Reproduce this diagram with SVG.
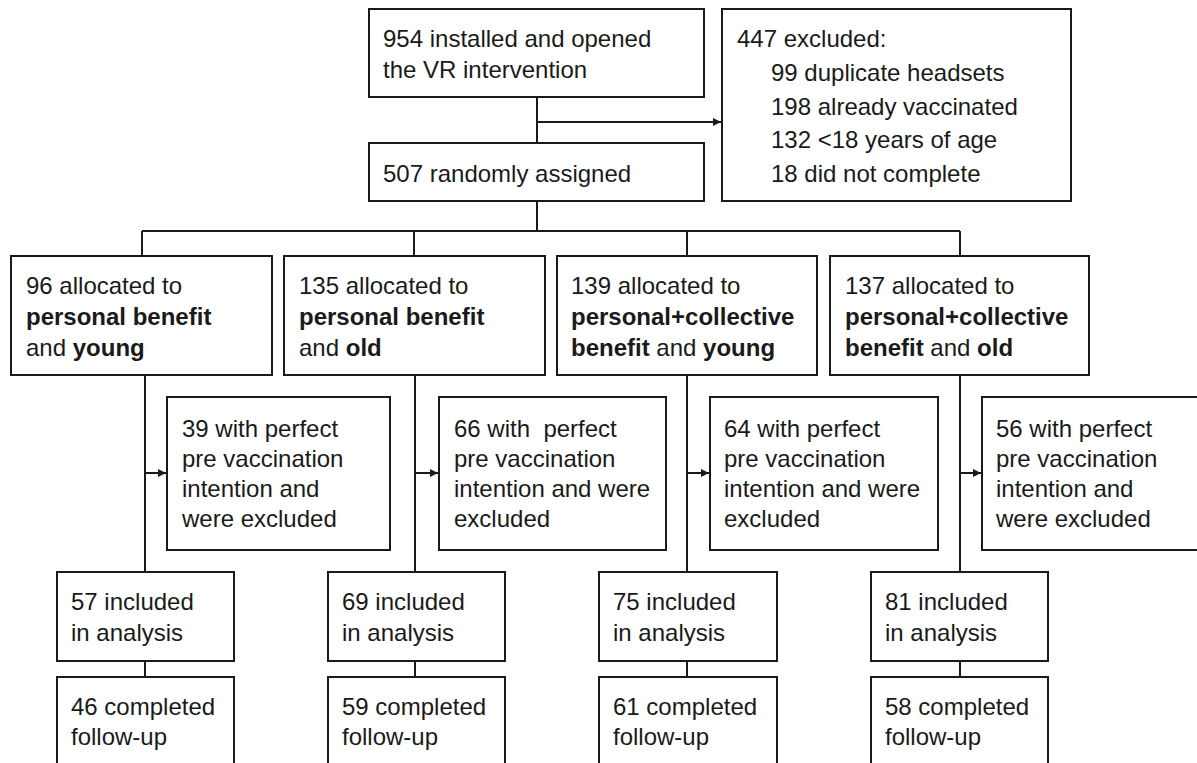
<svg xmlns="http://www.w3.org/2000/svg" width="1197" height="763" viewBox="0 0 1197 763">
<defs>
<marker id="arr" viewBox="0 0 10 10" refX="10" refY="5" markerWidth="10" markerHeight="8" markerUnits="userSpaceOnUse" orient="auto">
<path d="M0,0 L10,5 L0,10 z" fill="#1a1a1a"/>
</marker>
</defs>
<style>
rect.box{fill:#fff;stroke:#1a1a1a;stroke-width:2}
.t{font-family:"Liberation Sans",Arial,Helvetica,sans-serif;font-size:24px;fill:#1a1a1a}
.b{font-weight:bold}
.c{fill:none;stroke:#1a1a1a;stroke-width:2}
</style>
<rect width="1197" height="763" fill="#fff"/>
<g id="connectors">
<path class="c" d="M537,97 V143"/>
<path class="c" d="M537,122 H721" marker-end="url(#arr)"/>
<path class="c" d="M537,201 V231"/>
<path class="c" d="M142,231 H960"/>
<path class="c" d="M142,231 V256 M414,231 V256 M687,231 V256 M960,231 V256"/>
<path class="c" d="M145,375 V572 M415,375 V572 M687,375 V572 M960,375 V572"/>
<path class="c" d="M145,473 H166" marker-end="url(#arr)"/>
<path class="c" d="M415,473 H438" marker-end="url(#arr)"/>
<path class="c" d="M687,473 H709" marker-end="url(#arr)"/>
<path class="c" d="M960,473 H981" marker-end="url(#arr)"/>
<path class="c" d="M145,661 V677 M415,661 V677 M687,661 V677 M960,661 V677"/>
</g>
<g id="installed">
<rect class="box" x="369" y="9" width="335" height="88"/>
<text class="t" x="383" y="47">954 installed and opened</text>
<text class="t" x="383" y="78">the VR intervention</text>
</g>
<g id="excluded">
<rect class="box" x="722" y="9" width="349" height="192"/>
<text class="t" x="737" y="47">447 excluded:</text>
<text class="t" x="771" y="81">99 duplicate headsets</text>
<text class="t" x="771" y="115">198 already vaccinated</text>
<text class="t" x="771" y="148">132 &lt;18 years of age</text>
<text class="t" x="771" y="182">18 did not complete</text>
</g>
<g id="randomized">
<rect class="box" x="369" y="143" width="335" height="58"/>
<text class="t" x="383" y="182">507 randomly assigned</text>
</g>
<g id="arm1">
<rect class="box" x="11" y="256" width="261" height="119"/>
<text class="t" x="26" y="294">96 allocated to</text>
<text class="t b" x="26" y="325">personal benefit</text>
<text class="t" x="26" y="356">and <tspan class="b">young</tspan></text>
</g>
<g id="arm2">
<rect class="box" x="284" y="256" width="261" height="119"/>
<text class="t" x="299" y="294">135 allocated to</text>
<text class="t b" x="299" y="325">personal benefit</text>
<text class="t" x="299" y="356">and <tspan class="b">old</tspan></text>
</g>
<g id="arm3">
<rect class="box" x="557" y="256" width="260" height="119"/>
<text class="t" x="571" y="294">139 allocated to</text>
<text class="t b" x="571" y="325">personal+collective</text>
<text class="t" x="571" y="356"><tspan class="b">benefit</tspan> and <tspan class="b">young</tspan></text>
</g>
<g id="arm4">
<rect class="box" x="830" y="256" width="259" height="119"/>
<text class="t" x="845" y="294">137 allocated to</text>
<text class="t b" x="845" y="325">personal+collective</text>
<text class="t" x="845" y="356"><tspan class="b">benefit</tspan> and <tspan class="b">old</tspan></text>
</g>
<g id="excl1">
<rect class="box" x="167" y="397" width="223" height="153"/>
<text class="t" x="182" y="437">39 with perfect</text>
<text class="t" x="182" y="467">pre vaccination</text>
<text class="t" x="182" y="497">intention and</text>
<text class="t" x="182" y="527">were excluded</text>
</g>
<g id="excl2">
<rect class="box" x="439" y="397" width="227" height="153"/>
<text class="t" x="454" y="437" xml:space="preserve">66 with  perfect</text>
<text class="t" x="454" y="467">pre vaccination</text>
<text class="t" x="454" y="497">intention and were</text>
<text class="t" x="454" y="527">excluded</text>
</g>
<g id="excl3">
<rect class="box" x="710" y="397" width="228" height="153"/>
<text class="t" x="724" y="437">64 with perfect</text>
<text class="t" x="724" y="467">pre vaccination</text>
<text class="t" x="724" y="497">intention and were</text>
<text class="t" x="724" y="527">excluded</text>
</g>
<g id="excl4">
<rect class="box" x="982" y="397" width="230" height="153"/>
<text class="t" x="996" y="437">56 with perfect</text>
<text class="t" x="996" y="467">pre vaccination</text>
<text class="t" x="996" y="497">intention and</text>
<text class="t" x="996" y="527">were excluded</text>
</g>
<g id="incl1">
<rect class="box" x="57" y="572" width="177" height="89"/>
<text class="t" x="71" y="610">57 included</text>
<text class="t" x="71" y="641">in analysis</text>
</g>
<g id="incl2">
<rect class="box" x="328" y="572" width="177" height="89"/>
<text class="t" x="342" y="610">69 included</text>
<text class="t" x="342" y="641">in analysis</text>
</g>
<g id="incl3">
<rect class="box" x="599" y="572" width="178" height="89"/>
<text class="t" x="613" y="610">75 included</text>
<text class="t" x="613" y="641">in analysis</text>
</g>
<g id="incl4">
<rect class="box" x="871" y="572" width="177" height="89"/>
<text class="t" x="885" y="610">81 included</text>
<text class="t" x="885" y="641">in analysis</text>
</g>
<g id="fu1">
<rect class="box" x="57" y="677" width="177" height="100"/>
<text class="t" x="71" y="715">46 completed</text>
<text class="t" x="71" y="745">follow-up</text>
</g>
<g id="fu2">
<rect class="box" x="328" y="677" width="177" height="100"/>
<text class="t" x="342" y="715">59 completed</text>
<text class="t" x="342" y="745">follow-up</text>
</g>
<g id="fu3">
<rect class="box" x="599" y="677" width="178" height="100"/>
<text class="t" x="613" y="715">61 completed</text>
<text class="t" x="613" y="745">follow-up</text>
</g>
<g id="fu4">
<rect class="box" x="871" y="677" width="177" height="100"/>
<text class="t" x="885" y="715">58 completed</text>
<text class="t" x="885" y="745">follow-up</text>
</g>
</svg>
